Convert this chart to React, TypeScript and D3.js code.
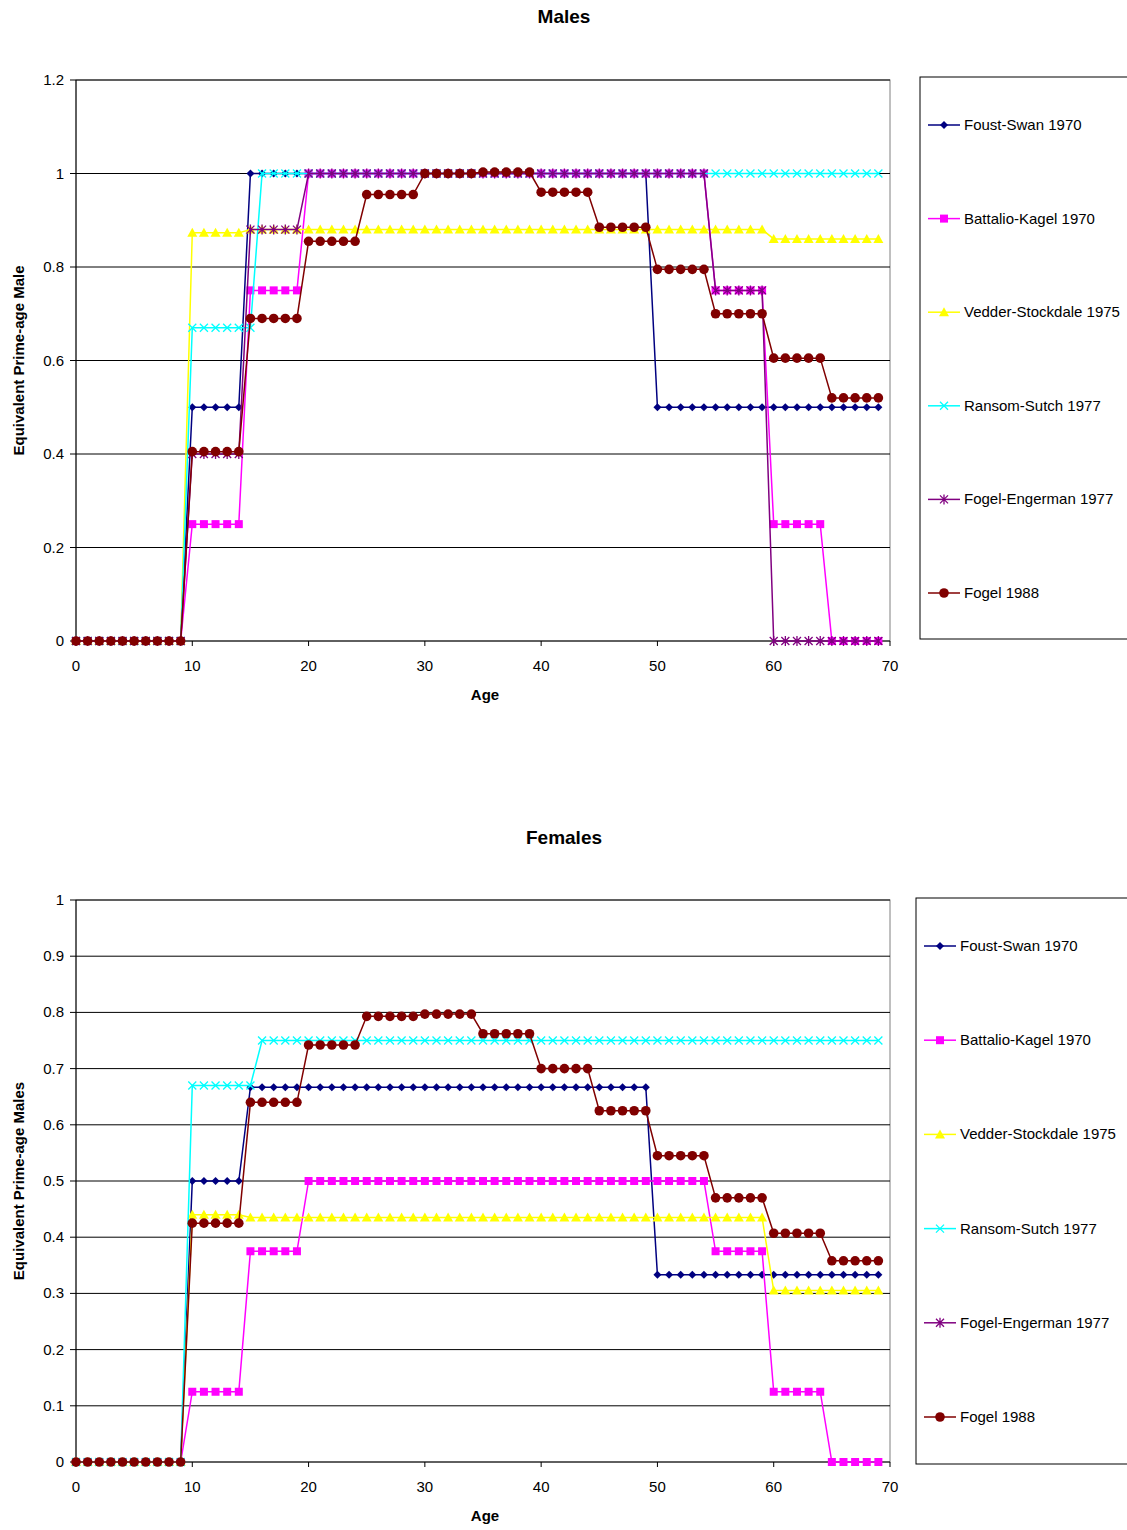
import React from "react";
import * as d3 from "d3";

const ages = d3.range(0, 70);
const seriesNames = ["Foust-Swan 1970", "Battalio-Kagel 1970", "Vedder-Stockdale 1975", "Ransom-Sutch 1977", "Fogel-Engerman 1977", "Fogel 1988"];
const colors = ["#000080", "#FF00FF", "#FFFF00", "#00FFFF", "#800080", "#800000"];
const markers = ["diamond", "square", "triangle", "x", "star", "circle"];

// step values: [startAge, value] pairs, each holds until next start
const maleSteps: [number, number][][] = [
  [[0, 0], [10, 0.5], [15, 1], [50, 0.5]],
  [[0, 0], [10, 0.25], [15, 0.75], [20, 1], [55, 0.75], [60, 0.25], [65, 0]],
  [[0, 0], [10, 0.873], [15, 0.88], [60, 0.86]],
  [[0, 0], [10, 0.67], [16, 1]],
  [[0, 0], [10, 0.4], [15, 0.88], [20, 1], [55, 0.75], [60, 0]],
  [[0, 0], [10, 0.405], [15, 0.69], [20, 0.855], [25, 0.955], [30, 1], [35, 1.003], [40, 0.96], [45, 0.885], [50, 0.795], [55, 0.7], [60, 0.605], [65, 0.52]],
];
const femaleSteps: [number, number][][] = [
  [[0, 0], [10, 0.5], [15, 0.667], [50, 0.333]],
  [[0, 0], [10, 0.125], [15, 0.375], [20, 0.5], [55, 0.375], [60, 0.125], [65, 0]],
  [[0, 0], [10, 0.44], [15, 0.435], [60, 0.305]],
  [[0, 0], [10, 0.67], [16, 0.75]],
  [],
  [[0, 0], [10, 0.425], [15, 0.64], [20, 0.742], [25, 0.793], [30, 0.797], [35, 0.762], [40, 0.7], [45, 0.625], [50, 0.545], [55, 0.47], [60, 0.407], [65, 0.358]],
];
const maleTicks = [0, 0.2, 0.4, 0.6, 0.8, 1, 1.2];
const femaleTicks = [0, 0.1, 0.2, 0.3, 0.4, 0.5, 0.6, 0.7, 0.8, 0.9, 1];
const xTicks = [0, 10, 20, 30, 40, 50, 60, 70];

function expand(steps: [number, number][]) {
  if (!steps.length) return [];
  return ages.map((a) => {
    let v = 0;
    for (const [s, val] of steps) if (a >= s) v = val;
    return { a, v };
  });
}

const FONT = "Arial, 'Liberation Sans', sans-serif";

function Marker({ type, x, y, color }: { type: string; x: number; y: number; color: string }) {
  const s = 4;
  if (type === "diamond") return <path d={`M${x},${y - s}L${x + s},${y}L${x},${y + s}L${x - s},${y}Z`} fill={color} />;
  if (type === "square") return <rect x={x - 4} y={y - 4} width={8} height={8} fill={color} />;
  if (type === "triangle") return <path d={`M${x},${y - 5}L${x + 5},${y + 4}L${x - 5},${y + 4}Z`} fill={color} />;
  if (type === "x") return <path d={`M${x - 4},${y - 4}L${x + 4},${y + 4}M${x - 4},${y + 4}L${x + 4},${y - 4}`} stroke={color} strokeWidth={1.3} />;
  if (type === "star") return <path d={`M${x - 4},${y - 4}L${x + 4},${y + 4}M${x - 4},${y + 4}L${x + 4},${y - 4}M${x},${y - 5}L${x},${y + 5}`} stroke={color} strokeWidth={1.3} />;
  return <circle cx={x} cy={y} r={4.8} fill={color} />;
}

function Panel({ top, title, yLabel, steps, ticks, yMax, plotTop, plotBottom, legend, legStep }: any) {
  const x = d3.scaleLinear().domain([0, 70]).range([76, 890]);
  const y = d3.scaleLinear().domain([0, yMax]).range([plotBottom, plotTop]);
  const line = d3.line<{ a: number; v: number }>().x((d) => x(d.a)).y((d) => y(d.v));
  const [lx, ly, lw, lh] = legend;
  const midY = (plotTop + plotBottom) / 2;
  return (
    <g fontFamily={FONT}>
      <text x={564} y={top} textAnchor="middle" fontWeight="bold" fontSize={19}>{title}</text>
      <rect x={76} y={plotTop} width={814} height={plotBottom - plotTop} fill="white" stroke="#808080" />
      {ticks.map((t: number) => (
        <g key={t}>
          <line x1={70} x2={890} y1={y(t)} y2={y(t)} stroke="black" strokeWidth={1} />
          <text x={64} y={y(t) + 5} textAnchor="end" fontSize={15}>{t}</text>
        </g>
      ))}
      <line x1={76} x2={76} y1={plotTop} y2={plotBottom} stroke="black" />
      {xTicks.map((t) => (
        <g key={t}>
          <line x1={x(t)} x2={x(t)} y1={plotBottom} y2={plotBottom + 5} stroke="black" />
          <text x={x(t)} y={plotBottom + 30} textAnchor="middle" fontSize={15}>{t}</text>
        </g>
      ))}
      <text x={485} y={plotBottom + 59} textAnchor="middle" fontWeight="bold" fontSize={15}>Age</text>
      <text transform={`translate(24,${midY}) rotate(-90)`} textAnchor="middle" fontWeight="bold" fontSize={15}>{yLabel}</text>
      {steps.map((st: [number, number][], i: number) => {
        const data = expand(st);
        return (
          <g key={i}>
            <path d={line(data) || ""} fill="none" stroke={colors[i]} strokeWidth={1.5} />
            {data.map((d) => <Marker key={d.a} type={markers[i]} x={x(d.a)} y={y(d.v)} color={colors[i]} />)}
          </g>
        );
      })}
      <rect x={lx} y={ly} width={lw} height={lh} fill="white" stroke="black" />
      {seriesNames.map((n, i) => {
        const yy = ly + 48 + i * legStep;
        return (
          <g key={n}>
            <line x1={lx + 8} x2={lx + 40} y1={yy} y2={yy} stroke={colors[i]} strokeWidth={1.5} />
            <Marker type={markers[i]} x={lx + 24} y={yy} color={colors[i]} />
            <text x={lx + 44} y={yy + 5} fontSize={15}>{n}</text>
          </g>
        );
      })}
    </g>
  );
}

export default function App() {
  return (
    <svg width={1127} height={1530} style={{ position: "absolute", left: 0, top: 0 }}>
      <rect width={1127} height={1530} fill="white" />
      <Panel top={23} title="Males" yLabel="Equivalent Prime-age Male" steps={maleSteps} ticks={maleTicks} yMax={1.2} plotTop={80} plotBottom={641} legend={[920, 77, 210, 562]} legStep={93.6} />
      <Panel top={844} title="Females" yLabel="Equivalent Prime-age Males" steps={femaleSteps} ticks={femaleTicks} yMax={1} plotTop={900} plotBottom={1462} legend={[916, 898, 214, 566]} legStep={94.2} />
    </svg>
  );
}
